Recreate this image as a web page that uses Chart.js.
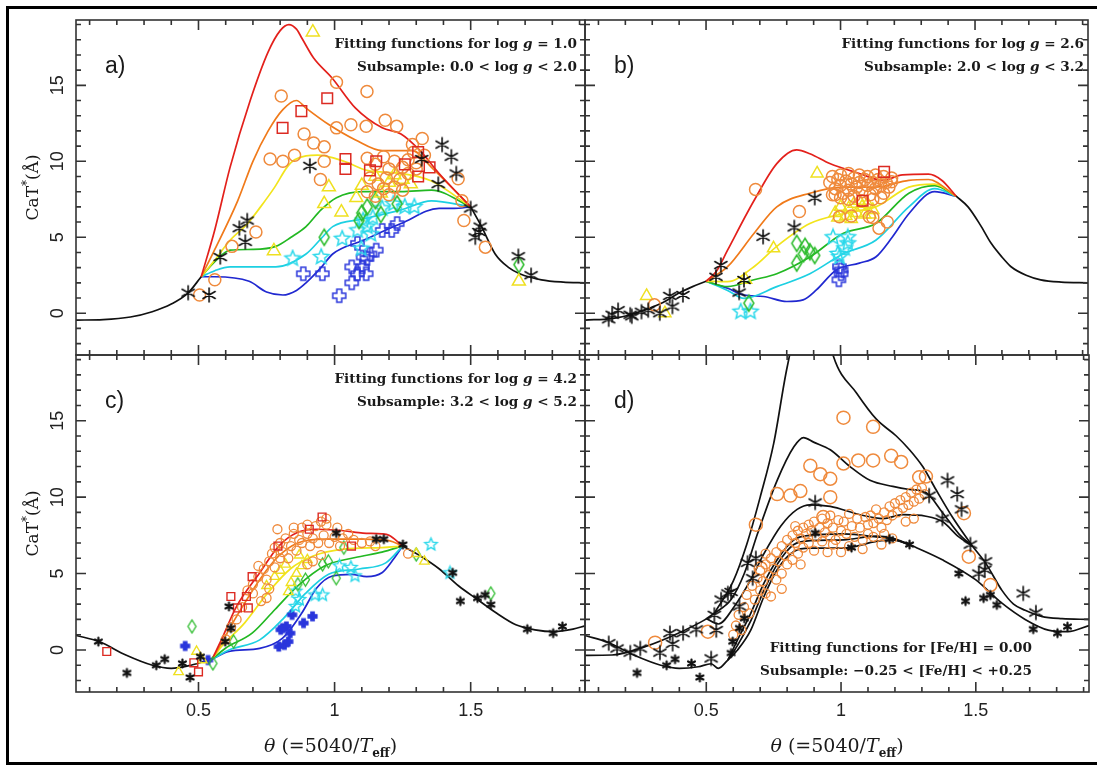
<!DOCTYPE html>
<html>
<head>
<meta charset="utf-8">
<script src="https://cdn.jsdelivr.net/npm/chart.js@4.4.0/dist/chart.umd.min.js"></script>
<style>
  body { margin: 0; background: #fff; }
  #wrap { position: relative; width: 1097px; height: 766px; overflow: hidden; background: #fff; }
  #frame { position: absolute; left: 6px; top: 6px; width: 1100px; height: 753px; border: 3px solid #000; }
  canvas { position: absolute; left: 0; top: 0; }
</style>
</head>
<body>
<div id="wrap">
  <div id="frame"></div>
  <canvas id="pa" width="1097" height="766"></canvas>
  <canvas id="pb" width="1097" height="766"></canvas>
  <canvas id="pc" width="1097" height="766"></canvas>
  <canvas id="pd" width="1097" height="766"></canvas>
</div>
<script>
// axes
const xTicks = [0.5, 1, 1.5];
const xTickLabels = ['0.5', '1', '1.5'];
const yTicks = [0, 5, 10, 15];
const yTickLabels = ['0', '5', '10', '15'];
const xRange = [0.05, 1.92];
const yRange = [-2.75, 19.3];

// ---- panel a) log g = 1.0 ----
const aBlackLeft = [[0.05,-0.45],[0.15,-0.42],[0.25,-0.25],[0.33,0.1],[0.4,0.6],[0.46,1.3],[0.51,2.4]];
const aBlackRight = [[1.5,7.0],[1.54,5.7],[1.59,3.9],[1.64,3.0],[1.68,2.6],[1.76,2.2],[1.84,2.05],[1.92,2.0]];
const aRed = [[0.51,2.4],[0.56,5.5],[0.616,9.6],[0.69,14.0],[0.756,17.2],[0.8,18.6],[0.832,19.0],[0.86,18.7],[0.88,18.1],[0.923,16.8],[0.99,15.5],[1.077,13.5],[1.175,12.2],[1.244,11.8],[1.314,10.7],[1.384,9.2],[1.5,7.0]];
const aOrange = [[0.51,2.4],[0.56,4.2],[0.644,7.4],[0.7,10.0],[0.756,12.0],[0.81,13.4],[0.86,14.0],[0.895,13.5],[0.98,12.4],[1.077,11.4],[1.175,10.7],[1.286,10.7],[1.356,9.6],[1.5,7.0]];
const aYellow = [[0.51,2.4],[0.56,3.5],[0.616,4.8],[0.68,5.9],[0.728,7.0],[0.78,8.3],[0.825,9.6],[0.853,10.1],[0.937,10.4],[1.035,10.0],[1.119,9.4],[1.244,9.2],[1.356,8.7],[1.5,7.0]];
const aGreen = [[0.51,2.4],[0.56,3.4],[0.616,4.15],[0.7,4.2],[0.784,4.4],[0.84,5.0],[0.895,5.7],[0.95,6.8],[1.007,7.6],[1.105,8.0],[1.244,8.0],[1.356,8.1],[1.5,7.0]];
const aCyan = [[0.51,2.4],[0.56,2.8],[0.616,3.05],[0.784,3.05],[0.895,3.9],[0.95,4.9],[0.993,5.7],[1.105,6.2],[1.244,6.8],[1.356,7.4],[1.5,7.0]];
const aBlue = [[0.51,2.4],[0.56,2.4],[0.686,2.1],[0.75,1.4],[0.81,1.2],[0.86,1.5],[0.895,2.0],[0.95,3.0],[0.993,3.9],[1.105,4.8],[1.244,5.9],[1.384,6.9],[1.44,6.9],[1.5,7.0]];
const aStars = [[0.462,1.35],[0.539,1.2],[0.58,3.7],[0.65,5.6],[0.679,6.1],[0.672,4.7],[0.909,9.7],[1.32,10.15],[1.395,11.1],[1.429,10.3],[1.447,9.2],[1.381,8.5],[1.5,6.9],[1.517,5.0],[1.535,5.7],[1.53,5.35],[1.675,3.75],[1.722,2.5]];
const aCircles = [[0.504,1.2],[0.56,2.2],[0.623,4.4],[0.711,5.35],[0.804,14.3],[1.007,15.2],[1.119,14.6],[0.763,10.15],[0.81,10.0],[0.853,10.4],[0.888,11.8],[0.923,11.2],[0.962,10.95],[0.962,10.0],[0.948,8.8],[1.007,12.2],[1.06,12.4],[1.116,12.3],[1.186,12.7],[1.228,12.3],[1.322,11.5],[1.286,11.1],[1.12,10.2],[1.15,9.8],[1.18,10.3],[1.2,9.5],[1.22,10.0],[1.25,9.6],[1.27,10.1],[1.3,9.9],[1.13,8.9],[1.16,8.5],[1.19,8.9],[1.22,8.3],[1.24,8.8],[1.27,9.2],[1.12,8.0],[1.15,7.7],[1.18,8.2],[1.2,7.8],[1.25,8.1],[1.3,9.5],[1.33,10.4],[1.29,10.6],[1.454,8.85],[1.468,7.4],[1.475,6.1],[1.554,4.35]];
const aSquares = [[0.809,12.2],[0.878,13.3],[0.973,14.15],[1.04,10.15],[1.04,9.5],[1.13,9.4],[1.153,10.0],[1.258,9.8],[1.307,10.6],[1.349,9.6],[1.307,9.0]];
const aTriangles = [[0.92,18.5],[0.979,8.3],[0.962,7.2],[1.025,6.65],[1.08,7.6],[0.777,4.1],[1.677,2.1],[1.15,9.0],[1.2,8.6],[1.25,8.8],[1.1,8.4],[1.17,7.9],[1.22,9.1],[1.28,8.5]];
const aDiamonds = [[0.962,5.0],[1.09,6.1],[1.12,7.0],[1.15,7.4],[1.17,6.5],[1.23,7.2],[1.677,3.2],[1.1,6.6]];
const aCyanStars = [[0.846,3.6],[0.951,3.7],[1.028,4.9],[1.084,5.45],[1.105,6.1],[1.12,5.7],[1.14,6.3],[1.175,6.9],[1.216,7.2],[1.258,7.0],[1.293,7.0],[1.098,4.25],[1.133,5.2]];
const aPluses = [[0.885,2.6],[0.955,2.6],[1.017,1.15],[1.063,2.0],[1.063,3.05],[1.084,2.6],[1.102,3.05],[1.116,2.6],[1.119,3.6],[1.13,3.9],[1.153,4.15],[1.084,4.6],[1.175,5.45],[1.21,5.45],[1.23,5.9],[1.105,3.7]];

// ---- panel b) log g = 2.6 ----
const bBlackLeft = [[0.05,-0.45],[0.15,-0.35],[0.22,-0.1],[0.273,0.22],[0.34,0.7],[0.396,1.3],[0.45,1.75],[0.5,2.1]];
const bBlackRight = [[1.43,7.7],[1.474,7.0],[1.52,5.8],[1.56,4.6],[1.6,3.7],[1.634,3.06],[1.69,2.5],[1.744,2.2],[1.82,2.05],[1.92,2.0]];
const bRed = [[0.5,2.1],[0.54,2.8],[0.58,4.15],[0.678,7.4],[0.763,9.85],[0.837,10.75],[0.886,10.5],[0.96,9.85],[1.07,9.2],[1.156,8.75],[1.23,9.1],[1.327,9.15],[1.376,8.75],[1.43,7.7]];
const bOrange = [[0.5,2.1],[0.58,3.06],[0.678,5.25],[0.763,7.0],[0.886,7.9],[1.009,8.3],[1.131,8.3],[1.254,8.75],[1.327,8.8],[1.43,7.7]];
const bYellow = [[0.5,2.1],[0.58,2.08],[0.678,3.06],[0.763,4.4],[0.886,5.9],[1.009,6.55],[1.131,7.0],[1.254,8.3],[1.35,8.5],[1.43,7.7]];
const bGreen = [[0.5,2.1],[0.58,1.75],[0.678,2.2],[0.763,2.6],[0.886,3.7],[1.009,5.25],[1.131,5.9],[1.254,7.9],[1.35,8.4],[1.43,7.7]];
const bCyan = [[0.5,2.1],[0.58,1.5],[0.641,0.98],[0.763,1.75],[0.886,2.6],[1.009,3.9],[1.131,4.8],[1.254,7.0],[1.35,8.2],[1.43,7.7]];
const bBlue = [[0.5,2.1],[0.58,1.64],[0.641,1.2],[0.714,1.1],[0.8,0.77],[0.861,0.88],[0.91,1.53],[0.984,2.85],[1.07,3.3],[1.131,3.7],[1.192,5.0],[1.254,6.55],[1.35,8.0],[1.43,7.7]];
const bStars = [[0.138,-0.4],[0.151,-0.1],[0.173,0.2],[0.218,-0.1],[0.224,-0.2],[0.26,0.1],[0.285,0.2],[0.328,0.0],[0.365,1.14],[0.375,0.44],[0.414,1.2],[0.555,3.17],[0.537,2.4],[0.623,1.36],[0.641,2.19],[0.712,5.03],[0.828,5.65],[0.904,7.6]];
const bCircles = [[0.308,0.55],[0.684,8.15],[0.847,6.7],[1.143,5.6],[1.174,6.0],[1.107,6.35],[0.996,6.35],[1.19,8.65],[0.97,7.8],
  [0.96,8.6],[0.97,9.0],[0.98,8.2],[0.99,8.8],[1.0,9.1],[1.0,8.4],[1.01,7.9],[1.02,8.7],[1.03,9.2],[1.03,8.1],[1.04,8.5],[1.05,8.9],[1.05,7.7],[1.06,8.3],[1.07,9.1],[1.07,8.6],[1.08,8.0],[1.09,8.8],[1.1,8.4],[1.1,9.0],[1.11,7.8],[1.12,8.6],[1.13,9.1],[1.13,8.2],[1.14,8.8],[1.15,8.4],[1.16,9.0],[1.16,7.9],[1.17,8.6],[1.18,8.3],[1.19,8.9],[1.0,7.6],[1.03,7.5],[0.98,7.8],[1.08,7.4],[1.12,7.5],[1.15,7.6],[1.04,6.4],[1.12,6.3]];
const bSquares = [[1.162,9.3],[1.082,7.4]];
const bTriangles = [[0.279,1.14],[0.347,0.0],[0.913,9.2],[0.751,4.27],[0.647,2.2],[0.98,6.6],[1.0,7.0],[1.02,6.4],[1.03,6.9],[1.05,7.2],[1.06,6.6],[1.08,7.0],[1.09,6.5],[1.1,7.2],[1.12,6.8],[0.99,6.3],[1.04,6.2],[1.07,7.4],[1.11,6.5]];
const bDiamonds = [[0.837,4.6],[0.868,4.4],[0.862,3.9],[0.886,4.05],[0.904,3.8],[0.837,3.3],[0.659,0.66]];
const bCyanStars = [[0.629,0.1],[0.665,0.1],[0.972,5.0],[1.027,5.0],[0.99,3.9],[1.015,4.27],[1.027,4.6],[0.996,3.7]];
const bPluses = [[0.996,3.06],[1.002,2.6],[0.994,2.2],[1.002,2.85]];

// ---- panel c) log g = 4.2 ----
const cBlackLeft = [[0.05,0.95],[0.135,0.55],[0.233,-0.33],[0.331,-1.0],[0.4,-1.2],[0.472,-1.0],[0.55,-0.6]];
const cBlackRight = [[1.25,6.8],[1.315,6.15],[1.385,5.3],[1.455,4.2],[1.525,3.3],[1.596,2.4],[1.666,1.65],[1.736,1.32],[1.806,1.2],[1.876,1.36],[1.92,1.58]];
const cRed = [[0.55,-0.6],[0.584,0.66],[0.64,2.85],[0.725,5.05],[0.795,6.8],[0.865,7.7],[0.935,7.9],[1.034,7.8],[1.104,7.65],[1.174,7.6],[1.2,7.5],[1.25,6.8]];
const cOrange = [[0.55,-0.6],[0.584,0.44],[0.64,2.2],[0.725,4.6],[0.795,6.15],[0.865,7.0],[0.963,7.25],[1.104,7.25],[1.2,7.15],[1.25,6.8]];
const cYellow = [[0.55,-0.6],[0.584,0.22],[0.669,1.76],[0.753,3.7],[0.837,5.3],[0.921,6.15],[1.034,6.6],[1.174,6.7],[1.25,6.8]];
const cGreen = [[0.55,-0.6],[0.598,0.1],[0.697,1.1],[0.781,2.65],[0.865,4.2],[0.963,5.5],[1.076,6.05],[1.174,6.4],[1.25,6.8]];
const cCyan = [[0.55,-0.6],[0.612,0.0],[0.725,0.66],[0.809,2.0],[0.893,3.7],[0.978,4.95],[1.09,5.3],[1.188,5.7],[1.25,6.8]];
const cBlue = [[0.55,-0.6],[0.612,-0.1],[0.725,0.1],[0.809,0.77],[0.879,2.4],[0.935,4.07],[0.992,4.84],[1.062,4.95],[1.118,4.8],[1.174,5.05],[1.216,5.93],[1.25,6.8]];
const cStars = [[0.132,0.55],[0.237,-1.5],[0.345,-1.0],[0.376,-0.6],[0.441,-0.88],[0.469,-1.8],[0.507,-0.44],[0.612,2.85],[0.619,1.43],[0.598,0.55],[1.006,7.65],[1.153,7.25],[1.181,7.25],[1.251,6.9],[1.434,5.05],[1.462,3.2],[1.525,3.4],[1.553,3.6],[1.574,2.97],[1.708,1.36],[1.803,1.1],[1.837,1.54]];
const cCircles = [[0.6,0.7],[0.62,1.5],[0.64,2.0],[0.66,2.8],[0.68,3.9],[0.7,3.7],[0.7,4.3],[0.72,4.8],[0.72,5.5],[0.73,3.2],[0.74,5.3],[0.75,3.4],[0.75,4.6],[0.76,4.0],[0.76,5.8],[0.77,6.3],[0.78,5.4],[0.78,6.7],[0.8,6.0],[0.8,7.0],[0.81,6.4],[0.82,7.3],[0.83,6.0],[0.84,6.8],[0.85,7.6],[0.86,6.5],[0.87,7.2],[0.88,8.0],[0.88,7.0],[0.9,7.6],[0.9,5.6],[0.91,6.8],[0.92,7.3],[0.92,5.8],[0.93,8.1],[0.94,7.0],[0.95,8.4],[0.95,6.2],[0.96,7.5],[0.97,8.2],[0.98,7.0],[1.0,7.4],[1.01,8.0],[1.02,6.8],[1.03,7.3],[1.05,7.6],[1.07,7.2],[1.1,7.0],[1.13,7.1],[1.15,6.8],[1.27,6.3],[0.79,7.9],[0.85,8.0],[0.9,8.2],[0.97,8.6]];
const cSquares = [[0.163,-0.1],[0.483,-0.84],[0.5,-1.43],[0.619,3.5],[0.643,2.75],[0.676,3.5],[0.683,2.75],[0.697,4.8],[0.792,6.8],[0.907,7.9],[0.954,8.7],[1.062,6.8]];
const cTriangles = [[0.427,-1.43],[0.493,-0.1],[0.514,-0.66],[0.75,4.2],[0.78,4.8],[0.8,5.2],[0.82,5.6],[0.84,4.4],[0.86,5.0],[0.88,5.5],[0.9,5.9],[0.83,3.8],[0.87,6.2],[1.33,5.8],[1.3,6.3]];
const cDiamonds = [[0.476,1.54],[0.553,-0.88],[0.629,0.55],[0.865,4.3],[0.893,4.6],[0.956,5.6],[0.977,5.8],[1.006,4.7],[1.034,6.7],[1.3,6.25],[1.574,3.7]];
const cCyanStars = [[0.857,2.85],[0.871,3.3],[0.928,3.6],[0.956,3.6],[1.018,5.5],[1.06,5.4],[1.075,4.85],[1.354,6.9],[1.424,5.05],[0.857,3.85]];
const cPluses = [[0.451,0.26],[0.535,-0.66],[0.795,0.22],[0.816,0.33],[0.83,0.55],[0.809,1.43],[0.823,1.54],[0.837,1.1],[0.844,2.3],[0.886,1.76],[0.919,2.2],[0.802,1.32]];

// ---- panel d) [Fe/H] = 0.00 ----
const dLeftUp = [[0.05,-0.35],[0.15,-0.33],[0.273,0.22],[0.396,1.1],[0.494,1.97],[0.53,2.4]];
const dLeftLow = [[0.05,0.95],[0.135,0.5],[0.233,-0.35],[0.331,-1.0],[0.4,-1.2],[0.47,-1.1],[0.518,-0.9],[0.545,-1.2],[0.58,-0.66]];
const dCurve1 = [[0.53,2.4],[0.6,4.5],[0.65,6.9],[0.7,10.0],[0.75,13.5],[0.8,18.5],[0.86,22.5],[0.93,22.5],[0.972,19.2],[1.058,16.8],[1.131,15.1],[1.205,14.0],[1.254,13.1],[1.303,12.0],[1.352,10.5],[1.413,8.7],[1.487,6.8]];
const dCurve2 = [[0.53,2.4],[0.592,3.3],[0.641,5.0],[0.69,7.6],[0.763,11.1],[0.825,13.3],[0.861,13.9],[0.898,13.6],[0.96,13.1],[1.033,12.0],[1.107,11.1],[1.192,10.7],[1.254,10.5],[1.315,10.3],[1.376,9.0],[1.437,7.6],[1.487,6.8]];
const dCurve3 = [[0.5,2.05],[0.545,1.7],[0.604,2.85],[0.665,4.6],[0.714,6.3],[0.776,8.1],[0.837,9.2],[0.886,9.5],[0.96,9.4],[1.07,8.85],[1.156,8.6],[1.23,8.85],[1.315,8.75],[1.376,8.4],[1.437,7.4],[1.487,6.8]];
const dCurve4 = [[0.58,-0.66],[0.616,0.66],[0.665,2.4],[0.714,4.37],[0.763,5.9],[0.825,7.2],[0.886,7.5],[1.009,7.6],[1.131,7.4],[1.192,7.25],[1.254,6.9]];
const dCurve5 = [[0.58,-0.66],[0.616,0.3],[0.665,1.9],[0.714,3.9],[0.763,5.6],[0.825,6.9],[0.886,7.15],[1.009,7.2],[1.131,7.45],[1.192,7.3],[1.254,6.9]];
const dCurve6 = [[0.58,-0.66],[0.616,0.0],[0.665,1.3],[0.714,3.5],[0.763,5.25],[0.825,6.45],[0.886,6.66],[1.009,6.66],[1.131,7.1],[1.192,7.2],[1.254,6.9]];
const dRightUp = [[1.487,6.8],[1.536,5.7],[1.597,3.9],[1.64,3.0],[1.683,2.6],[1.744,2.2],[1.82,2.05],[1.92,2.0]];
const dRightLow = [[1.254,6.9],[1.376,5.9],[1.499,4.6],[1.597,3.06],[1.683,2.0],[1.769,1.3],[1.842,1.2],[1.92,1.6]];
const dStarsBig = [[0.138,0.44],[0.169,0.1],[0.218,-0.17],[0.255,0.1],[0.328,-0.17],[0.365,1.1],[0.375,0.4],[0.414,1.1],[0.463,1.35],[0.53,2.3],[0.518,-0.55],[0.537,1.3],[0.555,3.3],[0.58,3.7],[0.592,3.8],[0.623,2.85],[0.653,5.7],[0.684,6.0],[0.672,4.7],[0.904,9.65],[1.327,10.1],[1.395,11.1],[1.431,10.2],[1.447,9.2],[1.376,8.6],[1.48,6.9],[1.511,5.0],[1.536,5.8],[1.533,5.25],[1.676,3.7],[1.723,2.45]];
const dStarsSmall = [[0.243,-1.5],[0.353,-1.0],[0.384,-0.6],[0.445,-0.88],[0.476,-1.8],[0.592,-0.2],[0.598,0.55],[0.623,1.43],[0.641,2.07],[0.904,7.65],[1.039,6.7],[1.18,7.25],[1.254,6.9],[1.437,5.0],[1.462,3.2],[1.529,3.4],[1.554,3.6],[1.578,2.95],[1.713,1.36],[1.803,1.1],[1.84,1.53]];
const dCirclesBig = [[1.009,15.2],[1.119,14.6],[1.064,12.4],[1.119,12.4],[1.009,12.2],[1.186,12.7],[1.223,12.3],[0.886,12.05],[0.923,11.5],[0.96,11.2],[0.96,10.0],[0.849,10.4],[0.812,10.1],[0.763,10.2],[0.934,8.7],[1.29,11.3],[1.315,11.35],[1.456,8.95],[1.474,6.1],[1.554,4.25],[0.31,0.48],[0.506,1.2],[0.684,8.2],[0.702,5.35]];
const dCirclesSmall = [[0.6,1.0],[0.61,1.6],[0.62,2.3],[0.63,1.3],[0.64,2.8],[0.65,3.6],[0.66,2.4],[0.67,4.2],[0.68,3.3],[0.69,4.7],[0.7,3.9],[0.7,5.2],
  [0.71,4.5],[0.72,5.6],[0.72,3.7],[0.73,4.9],[0.74,6.0],[0.74,3.5],[0.75,5.3],[0.76,6.4],[0.76,4.6],[0.77,5.8],[0.78,6.8],[0.78,5.0],[0.79,6.2],[0.8,7.2],[0.8,5.6],[0.72,6.3],[0.78,4.0],
  [0.81,6.6],[0.82,7.5],[0.82,5.9],[0.83,7.0],[0.84,7.8],[0.84,6.3],[0.85,7.3],[0.86,8.0],[0.86,6.7],[0.87,7.6],[0.88,8.2],[0.88,7.0],[0.89,7.8],[0.9,8.4],[0.9,6.5],[0.85,5.6],[0.83,8.1],
  [0.91,7.4],[0.92,8.0],[0.93,8.6],[0.93,7.1],[0.94,7.7],[0.95,8.3],[0.96,7.4],[0.96,8.8],[0.97,8.0],[0.98,7.2],[0.99,8.5],[1.0,7.8],[1.0,6.4],[0.95,6.4],[0.97,6.9],
  [1.01,8.4],[1.02,7.6],[1.03,8.9],[1.04,8.1],[1.05,7.4],[1.06,8.6],[1.07,8.0],[1.08,7.2],[1.09,8.7],[1.1,8.2],[1.03,6.8],[1.08,6.6],[1.1,7.6],
  [1.11,8.8],[1.12,8.3],[1.13,9.2],[1.14,8.6],[1.15,8.0],[1.16,9.0],[1.17,8.5],[1.18,9.4],[1.19,8.8],[1.2,9.6],[1.12,7.4],[1.16,7.6],[1.15,6.9],[1.19,7.3],
  [1.21,9.0],[1.22,9.8],[1.23,9.3],[1.24,10.0],[1.25,9.5],[1.26,10.3],[1.27,9.7],[1.28,10.5],[1.29,9.9],[1.3,10.6],[1.31,10.2],[1.27,8.6],[1.24,8.4]];

// colours
const RED = '#e3201b', ORANGE = '#f07a1a', YELLOW = '#f2e41c', GREEN = '#22b822', CYAN = '#1dd0e2', BLUE = '#2028d0', BLACK = '#111';
const M_ORANGE = '#ef8a3c', M_RED = '#dc2a22', M_YELLOW = '#efe020', M_GREEN = '#2cbc2c', M_CYAN = '#2ad8ea', M_BLUE = '#2a36dc';

// marker sprites
function sprite(size, draw) {
  const c = document.createElement('canvas');
  c.width = size; c.height = size;
  const g = c.getContext('2d');
  g.translate(size / 2, size / 2);
  draw(g);
  return c;
}
function asterisk(color, r, lw) {
  return sprite(Math.ceil(2 * r + lw + 2), g => {
    g.strokeStyle = color; g.lineWidth = lw; g.lineCap = 'round';
    g.beginPath();
    for (let k = 0; k < 3; k++) {
      const t = Math.PI / 2 + k * Math.PI / 3;
      g.moveTo(-r * Math.cos(t), -r * Math.sin(t));
      g.lineTo(r * Math.cos(t), r * Math.sin(t));
    }
    g.stroke();
  });
}
function star5(color, r, lw) {
  return sprite(Math.ceil(2 * r + lw + 2), g => {
    g.strokeStyle = color; g.lineWidth = lw; g.lineJoin = 'miter';
    g.beginPath();
    for (let k = 0; k < 10; k++) {
      const rr = k % 2 ? r * 0.45 : r;
      const t = -Math.PI / 2 + k * Math.PI / 5;
      g.lineTo(rr * Math.cos(t), rr * Math.sin(t));
    }
    g.closePath(); g.stroke();
  });
}
function greekCross(color, r, lw, filled) {
  return sprite(Math.ceil(2 * r + lw + 2), g => {
    const a = r * 0.38;
    g.strokeStyle = color; g.fillStyle = color; g.lineWidth = lw;
    g.beginPath();
    [[-a,-r],[a,-r],[a,-a],[r,-a],[r,a],[a,a],[a,r],[-a,r],[-a,a],[-r,a],[-r,-a],[-a,-a]].forEach(p => g.lineTo(p[0], p[1]));
    g.closePath();
    if (filled) g.fill();
    g.stroke();
  });
}
function diamond(color, w, h, lw) {
  return sprite(Math.ceil(h + lw + 2), g => {
    g.strokeStyle = color; g.lineWidth = lw;
    g.beginPath();
    g.moveTo(0, -h / 2); g.lineTo(w / 2, 0); g.lineTo(0, h / 2); g.lineTo(-w / 2, 0);
    g.closePath(); g.stroke();
  });
}

const starBig = asterisk(BLACK, 7, 1.6);
const starSmall = asterisk(BLACK, 4, 2.2);
const cyanBig = star5(M_CYAN, 8, 1.5);
const cyanSmall = star5(M_CYAN, 6.5, 1.4);
const crossBig = greekCross(M_BLUE, 6.5, 1.5, false);
const crossSmall = greekCross(M_BLUE, 4.5, 1.2, true);
const diaBig = diamond(M_GREEN, 10, 16, 1.5);
const diaSmall = diamond(M_GREEN, 8, 13, 1.3);

function pts(data, style, color, r, bw) {
  return {
    data: data.map(([x, y]) => ({x, y})),
    showLine: false, order: 0,
    pointStyle: style, pointRadius: r, pointHoverRadius: r,
    pointBorderColor: color, pointBackgroundColor: 'rgba(0,0,0,0)',
    pointBorderWidth: bw || 1.5
  };
}
function curve(data, color) {
  return {
    data: data.map(([x, y]) => ({x, y})),
    showLine: true, order: 1, pointRadius: 0,
    borderColor: color, borderWidth: 1.7,
    cubicInterpolationMode: 'monotone', fill: false
  };
}

// frame with inward ticks on all four sides
const frameTicks = {
  id: 'frameTicks',
  afterDatasetsDraw(chart) {
    const {ctx, chartArea: a} = chart;
    const xs = chart.scales.x, ys = chart.scales.y;
    ctx.save();
    ctx.strokeStyle = '#333';
    ctx.lineWidth = 1.6;
    ctx.strokeRect(a.left, a.top, a.right - a.left, a.bottom - a.top);
    ctx.beginPath();
    for (let k = 1; k <= 19; k++) {
      const v = k / 10;
      const len = k % 5 === 0 ? 10 : 5;
      const px = xs.getPixelForValue(v);
      if (px <= a.left + 1 || px >= a.right - 1) continue;
      ctx.moveTo(px, a.top); ctx.lineTo(px, a.top + len);
      ctx.moveTo(px, a.bottom); ctx.lineTo(px, a.bottom - len);
    }
    for (let v = -2; v <= 19; v++) {
      const len = v % 5 === 0 ? 10 : 5;
      const py = ys.getPixelForValue(v);
      ctx.moveTo(a.left, py); ctx.lineTo(a.left + len, py);
      ctx.moveTo(a.right, py); ctx.lineTo(a.right - len, py);
    }
    ctx.stroke();
    ctx.restore();
  }
};

function rich(ctx, parts, x, y, align) {
  let w = 0;
  parts.forEach(p => { ctx.font = p[1]; w += ctx.measureText(p[0]).width; });
  let cx = align === 'right' ? x - w : (align === 'center' ? x - w / 2 : x);
  parts.forEach(p => {
    ctx.font = p[1];
    ctx.fillText(p[0], cx, y + (p[2] || 0));
    cx += ctx.measureText(p[0]).width;
  });
}

const B = 'bold 13.6px "DejaVu Serif"';
const BI = 'italic bold 13.6px "DejaVu Serif"';
const SERIF = '19px "DejaVu Serif"';
const SERIF_I = 'italic 19px "DejaVu Serif"';

function textPlugin(cfg) {
  return {
    id: 'texts',
    afterDraw(chart) {
      const ctx = chart.ctx;
      const a = chart.chartArea;
      ctx.save();
      ctx.fillStyle = '#1a1a1a';
      ctx.textBaseline = 'alphabetic';
      ctx.font = '23px "Liberation Sans"';
      ctx.textAlign = 'left';
      ctx.fillText(cfg.letter, a.left + 29, a.top + 53);
      cfg.notes.forEach((line, i) => rich(ctx, line, cfg.noteX, a.top + cfg.noteY + i * 23, 'right'));
      if (cfg.yTitle) {
        ctx.save();
        ctx.translate(32, (a.top + a.bottom) / 2);
        ctx.rotate(-Math.PI / 2);
        rich(ctx, [['CaT', '17px "DejaVu Serif"'], ['*', '12px "DejaVu Serif"', -7], ['(Å)', '17px "DejaVu Serif"']], 0, 6, 'center');
        ctx.restore();
      }
      if (cfg.xTitle) {
        rich(ctx, [['θ', SERIF_I], [' (=5040/', SERIF], ['T', SERIF_I], ['eff', 'bold 12px "DejaVu Serif"', 5], [')', SERIF]], (a.left + a.right) / 2, 752, 'center');
      }
      ctx.restore();
    }
  };
}

function makePanel(id, cfg) {
  const tickFont = {family: 'Liberation Sans', size: 18};
  new Chart(document.getElementById(id), {
    type: 'scatter',
    data: {datasets: cfg.datasets},
    options: {
      responsive: false, animation: false, devicePixelRatio: 1, events: [],
      layout: {padding: cfg.padding},
      plugins: {legend: {display: false}, tooltip: {enabled: false}},
      scales: {
        x: {
          type: 'linear', min: xRange[0], max: xRange[1], display: cfg.showX,
          afterBuildTicks: s => { s.ticks = xTicks.map(v => ({value: v})); },
          afterFit: s => { s.height = cfg.showX ? 74 : 0; s.paddingLeft = 0; s.paddingRight = 0; },
          grid: {display: false, drawTicks: false}, border: {display: false},
          ticks: {padding: 8, font: tickFont, color: '#222', maxRotation: 0, autoSkip: false, callback: (v, i) => xTickLabels[i]}
        },
        y: {
          type: 'linear', min: yRange[0], max: yRange[1], display: cfg.showY,
          afterBuildTicks: s => { s.ticks = yTicks.map(v => ({value: v})); },
          afterFit: s => { s.width = cfg.showY ? 76 : 0; s.paddingTop = 0; s.paddingBottom = 0; },
          grid: {display: false, drawTicks: false}, border: {display: false},
          ticks: {padding: 8, font: tickFont, color: '#222', minRotation: 90, maxRotation: 90, crossAlign: 'center', autoSkip: false, callback: (v, i) => yTickLabels[i]}
        }
      }
    },
    plugins: [frameTicks, textPlugin(cfg)]
  });
}

makePanel('pa', {
  padding: {left: 0, top: 20, right: 512, bottom: 411}, showX: false, showY: true,
  letter: 'a)', noteX: 577, noteY: 28, yTitle: true, xTitle: false,
  notes: [[['Fitting functions for log ', B], ['g', BI], [' = 1.0', B]], [['Subsample: 0.0 < log ', B], ['g', BI], [' < 2.0', B]]],
  datasets: [
    pts(aStars, starBig, BLACK, 5), pts(aSquares, 'rect', M_RED, 7.5), pts(aCircles, 'circle', M_ORANGE, 6),
    pts(aTriangles, 'triangle', M_YELLOW, 7.5), pts(aDiamonds, diaBig, M_GREEN, 5), pts(aCyanStars, cyanBig, M_CYAN, 5),
    pts(aPluses, crossBig, M_BLUE, 5),
    curve(aBlackLeft, BLACK), curve(aBlackRight, BLACK), curve(aRed, RED), curve(aOrange, ORANGE),
    curve(aYellow, YELLOW), curve(aGreen, GREEN), curve(aCyan, CYAN), curve(aBlue, BLUE)
  ]
});

makePanel('pb', {
  padding: {left: 585, top: 20, right: 5, bottom: 411}, showX: false, showY: false,
  letter: 'b)', noteX: 1084, noteY: 28, yTitle: false, xTitle: false,
  notes: [[['Fitting functions for log ', B], ['g', BI], [' = 2.6', B]], [['Subsample: 2.0 < log ', B], ['g', BI], [' < 3.2', B]]],
  datasets: [
    pts(bStars, starBig, BLACK, 5), pts(bSquares, 'rect', M_RED, 7.5), pts(bCircles, 'circle', M_ORANGE, 6),
    pts(bTriangles, 'triangle', M_YELLOW, 7), pts(bDiamonds, diaBig, M_GREEN, 5), pts(bCyanStars, cyanBig, M_CYAN, 5),
    pts(bPluses, crossBig, M_BLUE, 5),
    curve(bBlackLeft, BLACK), curve(bBlackRight, BLACK), curve(bRed, RED), curve(bOrange, ORANGE),
    curve(bYellow, YELLOW), curve(bGreen, GREEN), curve(bCyan, CYAN), curve(bBlue, BLUE)
  ]
});

makePanel('pc', {
  padding: {left: 0, top: 355, right: 512, bottom: 0}, showX: true, showY: true,
  letter: 'c)', noteX: 577, noteY: 28, yTitle: true, xTitle: true,
  notes: [[['Fitting functions for log ', B], ['g', BI], [' = 4.2', B]], [['Subsample: 3.2 < log ', B], ['g', BI], [' < 5.2', B]]],
  datasets: [
    pts(cStars, starSmall, BLACK, 4), pts(cSquares, 'rect', M_RED, 5.5, 1.4), pts(cCircles, 'circle', M_ORANGE, 4.5, 1.3),
    pts(cTriangles, 'triangle', M_YELLOW, 5.5, 1.4), pts(cDiamonds, diaSmall, M_GREEN, 4), pts(cCyanStars, cyanSmall, M_CYAN, 4),
    pts(cPluses, crossSmall, M_BLUE, 4),
    curve(cBlackLeft, BLACK), curve(cBlackRight, BLACK), curve(cRed, RED), curve(cOrange, ORANGE),
    curve(cYellow, YELLOW), curve(cGreen, GREEN), curve(cCyan, CYAN), curve(cBlue, BLUE)
  ]
});

makePanel('pd', {
  padding: {left: 585, top: 355, right: 5, bottom: 0}, showX: true, showY: false,
  letter: 'd)', noteX: 1032, noteY: 297, yTitle: false, xTitle: true,
  notes: [[['Fitting functions for [Fe/H] = 0.00', B]], [['Subsample: \u22120.25 < [Fe/H] < +0.25', B]]],
  datasets: [
    pts(dStarsBig, starBig, BLACK, 5), pts(dStarsSmall, starSmall, BLACK, 4),
    pts(dCirclesBig, 'circle', M_ORANGE, 6.5), pts(dCirclesSmall, 'circle', M_ORANGE, 4.5, 1.3),
    curve(dLeftUp, BLACK), curve(dLeftLow, BLACK), curve(dCurve1, BLACK), curve(dCurve2, BLACK),
    curve(dCurve3, BLACK), curve(dCurve4, BLACK), curve(dCurve5, BLACK), curve(dCurve6, BLACK),
    curve(dRightUp, BLACK), curve(dRightLow, BLACK)
  ]
});
</script>
</body>
</html>
